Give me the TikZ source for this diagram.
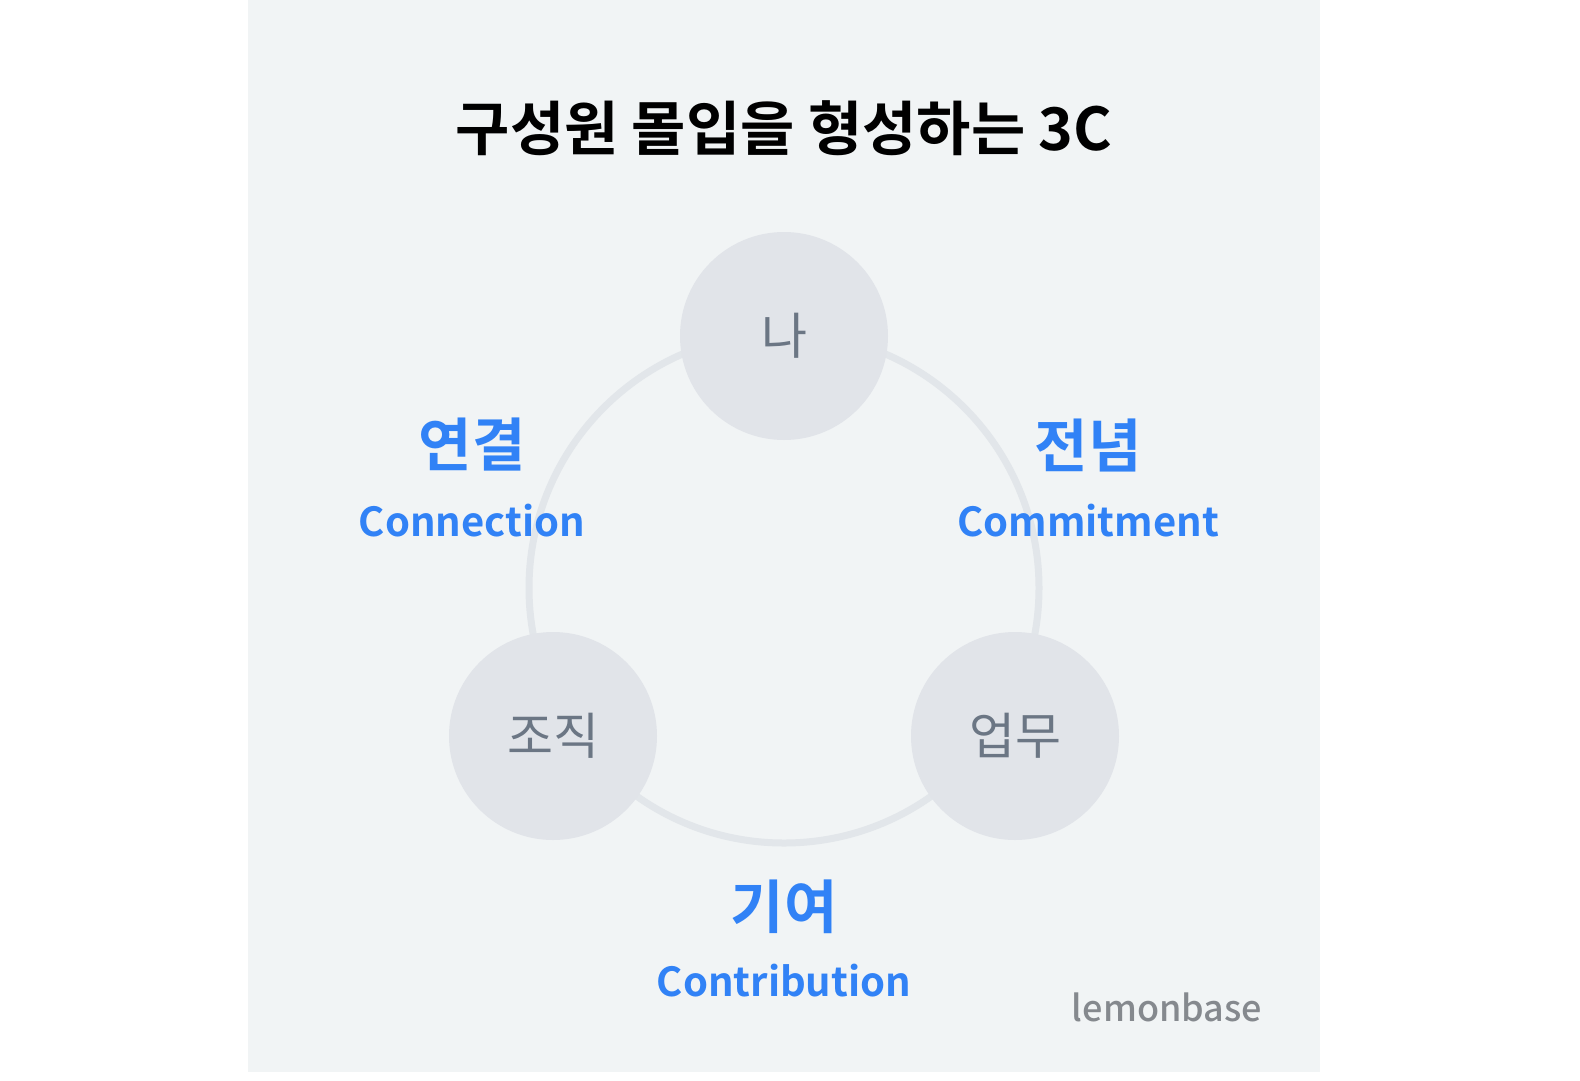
\documentclass[tikz,border=0pt]{standalone}
\usepackage{fontspec}
\newfontfamily\kr{Noto Sans CJK KR}
\newfontfamily\krb{Noto Sans CJK KR Bold}
\newfontfamily\krm{Noto Sans CJK KR Medium}
\definecolor{panel}{HTML}{F1F4F5}
\definecolor{ring}{HTML}{E2E6EA}
\definecolor{bub}{HTML}{E1E4E9}
\definecolor{bubtxt}{HTML}{6B7684}
\definecolor{blu}{HTML}{3182F6}
\definecolor{logo}{HTML}{85898E}
\begin{document}
\begin{tikzpicture}[x=1pt,y=-1pt,
  bubble/.style={circle,fill=bub,minimum size=208pt,inner sep=0pt,text=bubtxt,font=\kr\fontsize{50}{56}\selectfont},
  kw/.style={text=blu,font=\krb\fontsize{58}{64}\selectfont},
  en/.style={text=blu,font=\krb\fontsize{40}{46}\selectfont}]
\useasboundingbox (0,0) rectangle (1580,1080);
\fill[white] (0,0) rectangle (1580,1080);
\fill[panel] (248,0) rectangle (1320,1072);
\node[font=\krb\fontsize{59}{64}\selectfont] (title) at (784,128) {구성원 몰입을 형성하는 3C};
\coordinate (c) at (784,588);
\draw[ring,line width=7pt] (c) circle[radius=255];
\node[bubble] (na) at (784,336) {나};
\node[bubble] (org) at (553,736) {조직};
\node[bubble] (work) at (1015,736) {업무};
\node[kw] (k1) at (472,445) {연결};
\node[en] (e1) at (472,521) {Connection};
\node[kw] (k2) at (1088,445) {전념};
\node[en] (e2) at (1088,521) {Commitment};
\node[kw] (k3) at (784,907) {기여};
\node[en] (e3) at (784,981) {Contribution};
\node[text=logo,font=\krm\fontsize{36}{42}\selectfont] (lg) at (1167,1007) {lemonbase};
\end{tikzpicture}
\end{document}
